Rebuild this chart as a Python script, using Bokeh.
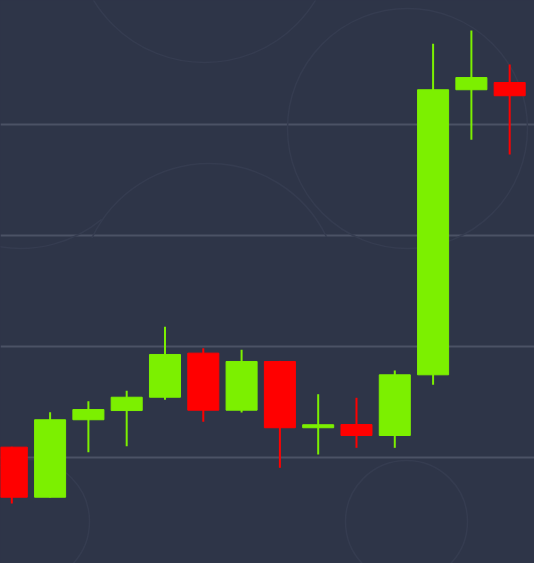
from bokeh.plotting import figure
from bokeh.models import Range1d, Grid, FixedTicker, ColumnDataSource
from bokeh.embed import file_html
from bokeh.resources import INLINE

# ---- data ----
idx   = list(range(14))
open_ = [109.3, 64.2, 134.0, 142.3, 154.3, 194.0, 142.6, 186.5, 126.8, 129.7, 119.8, 174.5, 431.3, 437.8]
close = [64.2, 134.0, 143.2, 154.3, 192.8, 142.6, 186.5, 126.8, 129.5, 119.8, 174.5, 431.3, 442.3, 425.9]
high  = [109.6, 140.8, 150.7, 160.1, 217.7, 198.5, 197.0, 187.0, 157.0, 153.8, 178.4, 472.7, 484.7, 454.1]
low   = [58.6, 64.0, 104.8, 110.2, 152.0, 132.2, 140.5, 90.7, 102.7, 108.7, 108.7, 165.5, 386.2, 373.0]
grid_levels = [100, 200, 300, 400]

BG = "#2e3548"
GREEN = "#7cf000"
RED = "#ff0000"

colors = [GREEN if c >= o else RED for o, c in zip(open_, close)]
body_top = [max(o, c) for o, c in zip(open_, close)]
body_bot = [min(o, c) for o, c in zip(open_, close)]
# keep tiny doji bodies visible
body_bot = [b if t - b >= 2.5 else t - 2.5 for t, b in zip(body_top, body_bot)]

src = ColumnDataSource(dict(x=idx, open=open_, close=close, high=high, low=low,
                            top=body_top, bottom=body_bot, color=colors))

W, H = 534, 563
p = figure(width=W, height=H,
           x_range=Range1d(-0.295, 13.648), y_range=Range1d(4.5, 511.7),
           output_backend="svg", toolbar_location=None,
           x_axis_location=None, y_axis_location=None,
           min_border=0, background_fill_color=BG, border_fill_color=BG,
           outline_line_color=None)

# drop default grids, keep only horizontal price levels
p.center = [r for r in p.center if not isinstance(r, Grid)]
p.add_layout(Grid(dimension=1, ticker=FixedTicker(ticks=grid_levels),
                  grid_line_color="#4b5265", grid_line_width=2))

# decorative faint rings (screen-space ranges)
p.extra_x_ranges = {"px": Range1d(0, W)}
p.extra_y_ranges = {"py": Range1d(H, 0)}
ring_col = "#353c50"
p.circle(x=[204, 407, 27, 406], y=[-68, 128, 521, 521], radius=[130, 120, 62, 61],
         radius_units="screen", fill_alpha=0, line_color=ring_col, line_width=1.5,
         x_range_name="px", y_range_name="py")
p.arc(x=[209, 20], y=[293, 120], radius=[130, 128],
      start_angle=[0.45, 3.6], end_angle=[2.7, 5.4], radius_units="screen",
      line_color=ring_col, line_width=1.5, x_range_name="px", y_range_name="py")

# wicks and bodies
p.segment(x0="x", y0="low", x1="x", y1="high", line_color="color", line_width=2, source=src)
p.vbar(x="x", width=0.81, top="top", bottom="bottom", fill_color="color",
       line_color="color", line_width=1, source=src)

html = file_html(p, INLINE)
html = html.replace("<head>", "<head><style>html,body{margin:0;padding:0;background:%s;overflow:hidden}</style>" % BG, 1)
open("out.html", "w").write(html)
